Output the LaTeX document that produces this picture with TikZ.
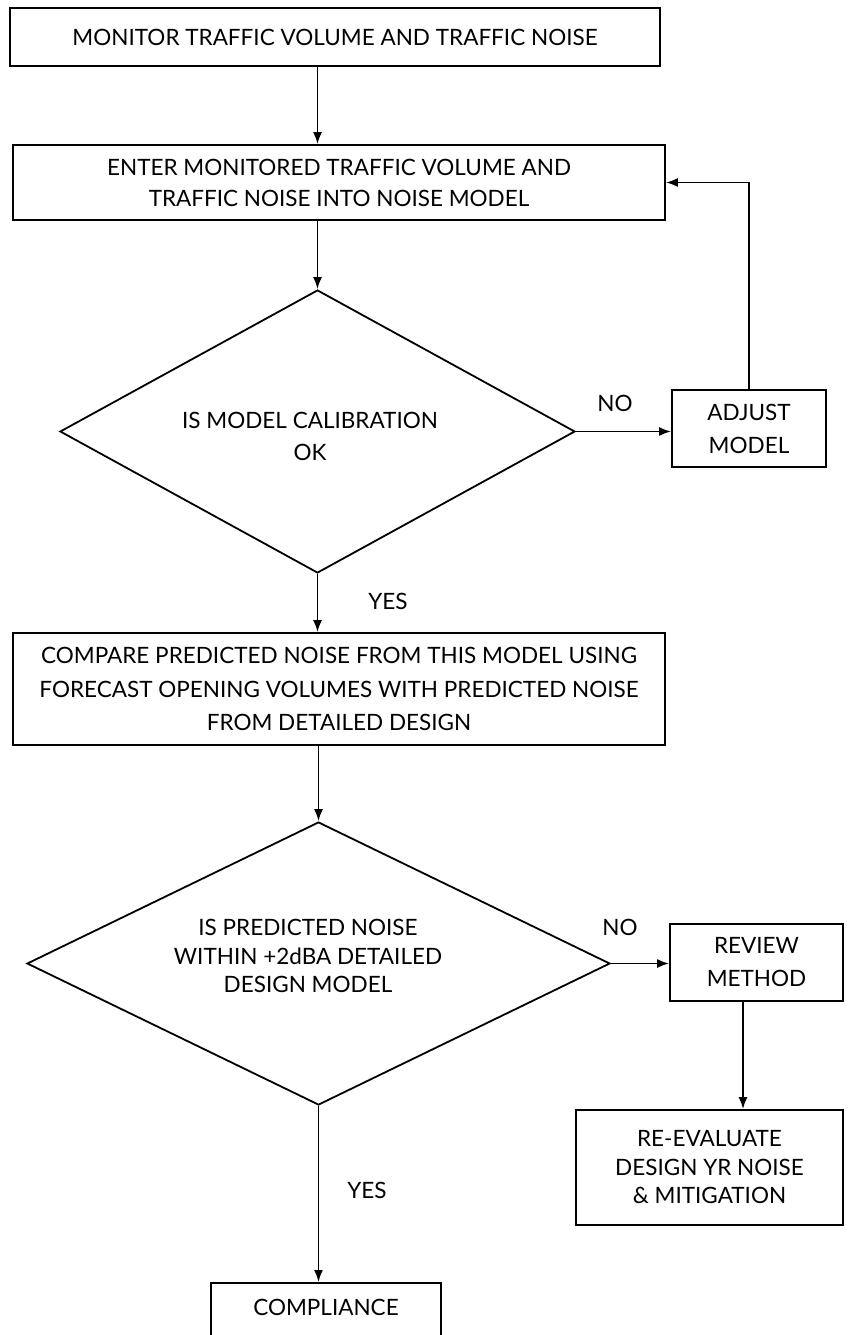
\documentclass[tikz,border=0pt]{standalone}
\usepackage{fontspec}
\setmainfont{Lato}
\usetikzlibrary{shapes.geometric,arrows.meta}

\tikzset{
  box/.style={draw, line width=1.8pt, rectangle, align=center, inner sep=0pt},
  decision/.style={draw, line width=1.8pt, diamond, inner sep=0pt},
  lbl/.style={align=center, inner sep=0pt},
  arrow/.style={line width=1.8pt, -{Latex[length=12pt,width=9pt]}}
}

\begin{document}
\begin{tikzpicture}[x=1pt,y=-1pt,font=\fontsize{22.5}{31}\selectfont]
    % Fix the page to the reference size
    \useasboundingbox (0,0) rectangle (850,1335);

    % Draw the boxes
    \node[box, minimum width=650pt, minimum height=58pt] (monitor) at (335,37)
        {MONITOR TRAFFIC VOLUME AND TRAFFIC NOISE};
    \node[box, minimum width=652pt, minimum height=75pt] (enter) at (339,182.5)
        {ENTER MONITORED TRAFFIC VOLUME AND\\TRAFFIC NOISE INTO NOISE MODEL};
    \node[box, minimum width=154pt, minimum height=77pt,
          font=\fontsize{22.5}{33}\selectfont] (adjust) at (749,428.5)
        {ADJUST\\MODEL};
    \node[box, minimum width=652pt, minimum height=112pt,
          font=\fontsize{22.5}{33.5}\selectfont] (compare) at (339,689)
        {COMPARE PREDICTED NOISE FROM THIS MODEL USING\\FORECAST OPENING VOLUMES WITH PREDICTED NOISE\\FROM DETAILED DESIGN};
    \node[box, minimum width=173pt, minimum height=77pt,
          font=\fontsize{22.5}{33}\selectfont] (review) at (756.5,962.5)
        {REVIEW\\METHOD};
    \node[box, minimum width=267pt, minimum height=115pt,
          font=\fontsize{22.5}{28.5}\selectfont] (reeval) at (709.5,1167.5)
        {RE-EVALUATE\\DESIGN YR NOISE\\\& MITIGATION};
    \node[box, minimum width=230pt, anchor=north, text height=33pt, text depth=50pt]
        (comply) at (326,1282) {COMPLIANCE};

    % Draw the decisions
    \node[decision, minimum width=515pt, minimum height=283pt] (calib) at (317.5,431.5) {};
    \node[lbl, font=\fontsize{22.5}{32}\selectfont] (calibtext) at (310,436)
        {IS MODEL CALIBRATION\\OK};
    \node[decision, minimum width=583pt, minimum height=283pt] (within) at (318.5,963.5) {};
    \node[lbl, font=\fontsize{22.5}{28.5}\selectfont] (withintext) at (308,956)
        {IS PREDICTED NOISE\\WITHIN +2dBA DETAILED\\DESIGN MODEL};

    % Labels on the branches
    \node[lbl] (no1) at (615,403) {NO};
    \node[lbl] (yes1) at (388,601) {YES};
    \node[lbl] (no2) at (620,927) {NO};
    \node[lbl] (yes2) at (367,1190) {YES};

    % Draw the arrows
    \draw[arrow] (monitor.south -| calib.north) -- (enter.north -| calib.north);
    \draw[arrow] (enter.south -| calib.north) -- (calib.north);
    \draw[arrow] (calib.east) -- (calib.east -| adjust.west);
    \draw[arrow] (adjust.north) |- (enter.east);
    \draw[arrow] (calib.south) -- (compare.north -| calib.south);
    \draw[arrow] (compare.south -| within.north) -- (within.north);
    \draw[arrow] (within.east) -- (within.east -| review.west);
    \draw[arrow] ([xshift=-13.5pt]review.south) -- ([xshift=-13.5pt]review.south |- reeval.north);
    \draw[arrow] (within.south) -- (comply.north -| within.south);

\end{tikzpicture}
\end{document}
